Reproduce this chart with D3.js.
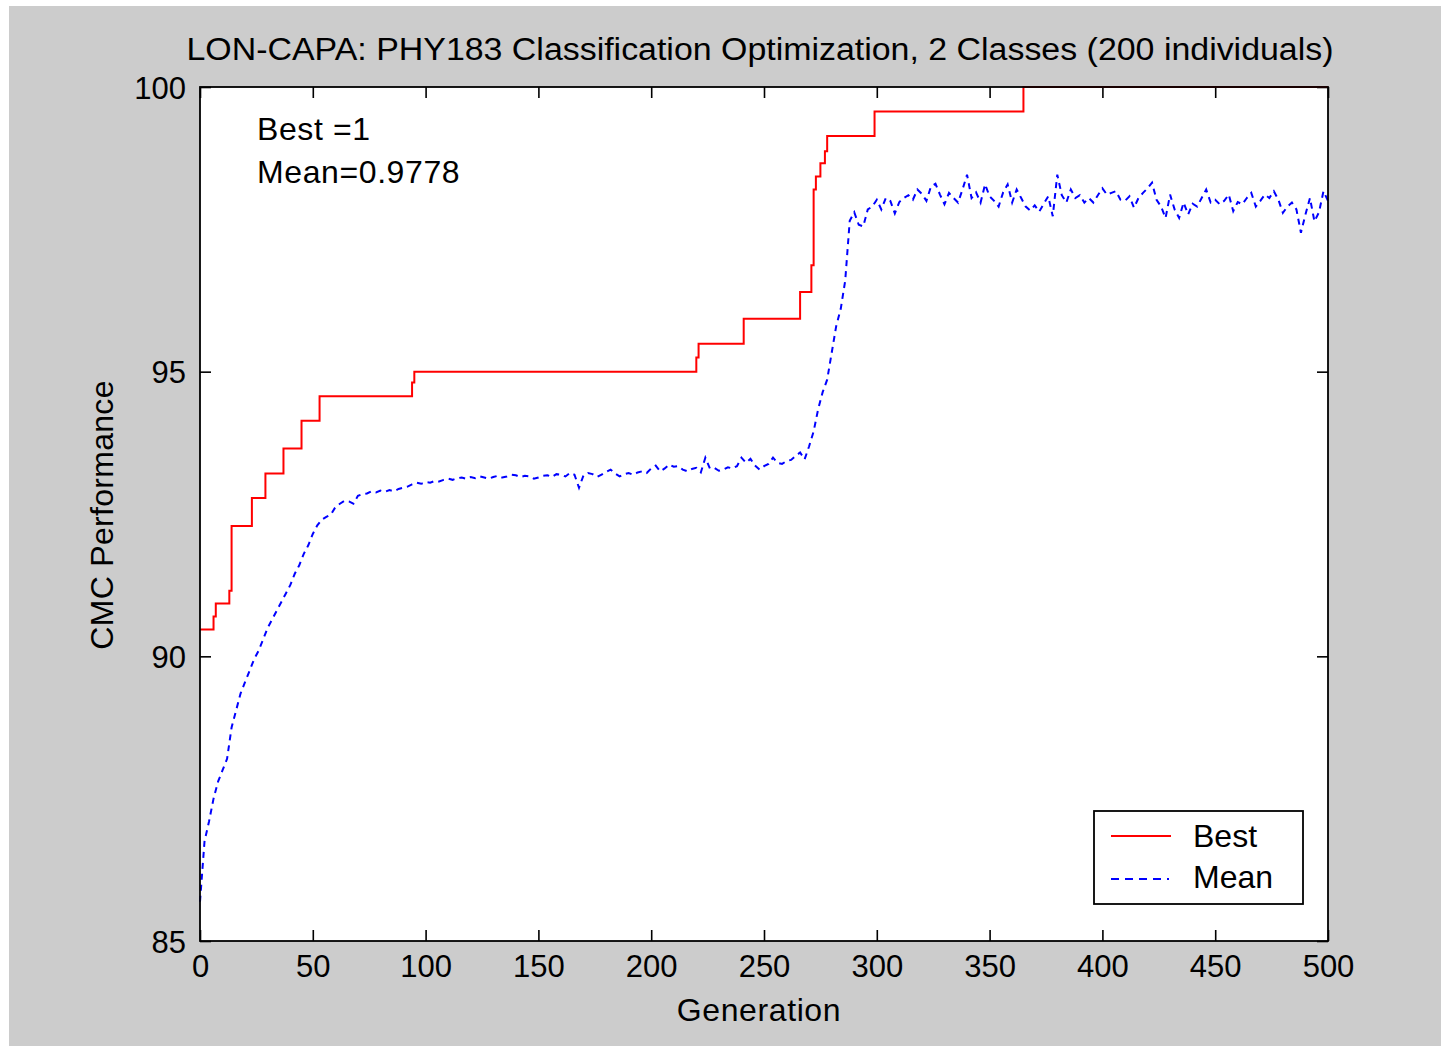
<!DOCTYPE html>
<html>
<head>
<meta charset="utf-8">
<script src="https://cdn.jsdelivr.net/npm/d3@7"></script>
<style>
  body { margin: 0; background: #ffffff; }
  svg text { font-family: "Liberation Sans", Arial, sans-serif; fill: #000; }
</style>
</head>
<body>
<svg id="Diagram"></svg>
<script>
// best individual (step curve): generation where value changes, and value
var bestGen = [0, 6, 7, 13, 14, 23, 29, 37, 45, 53, 94, 95, 220, 221, 241, 266, 271, 272, 273, 275, 277, 278, 299, 365, 500];
var bestVal = [90.47, 90.70, 90.93, 91.15, 92.29, 92.78, 93.21, 93.65, 94.14, 94.57, 94.81, 95.00, 95.25, 95.49, 95.93, 96.40, 96.87, 98.20, 98.43, 98.66, 98.87, 99.14, 99.57, 100.0, 100.0];

// mean of population, one value every 2 generations (0, 2, 4 ... 500)
var meanVal = [
  85.69, 86.75, 87.10, 87.50, 87.80, 88.00, 88.20, 88.75, 89.05, 89.35,
  89.55, 89.75, 89.95, 90.10, 90.30, 90.50, 90.65, 90.80, 90.95, 91.10,
  91.25, 91.45, 91.60, 91.80, 91.95, 92.15, 92.30, 92.40, 92.45, 92.49,
  92.62, 92.68, 92.73, 92.72, 92.68, 92.82, 92.85, 92.86, 92.90, 92.88,
  92.91, 92.89, 92.92, 92.90, 92.94, 92.96, 92.98, 93.02, 93.05, 93.03,
  93.06, 93.05, 93.08, 93.07, 93.10, 93.12, 93.10, 93.13, 93.14, 93.12,
  93.15, 93.13, 93.16, 93.14, 93.12, 93.15, 93.17, 93.14, 93.16, 93.19,
  93.18, 93.15, 93.17, 93.16, 93.12, 93.14, 93.17, 93.18, 93.15, 93.20,
  93.19, 93.16, 93.22, 93.19, 92.96, 93.18, 93.22, 93.20, 93.15, 93.19,
  93.24, 93.28, 93.21, 93.16, 93.20, 93.22, 93.19, 93.23, 93.25, 93.22,
  93.30, 93.35, 93.25, 93.30, 93.37, 93.33, 93.34, 93.28, 93.25, 93.29,
  93.31, 93.23, 93.49, 93.30, 93.31, 93.26, 93.28, 93.32, 93.30, 93.34,
  93.49, 93.40, 93.47, 93.35, 93.28, 93.34, 93.38, 93.49, 93.40, 93.38,
  93.43, 93.45, 93.52, 93.58, 93.46, 93.69, 93.95, 94.34, 94.64, 94.86,
  95.33, 95.80, 96.10, 96.60, 97.65, 97.80, 97.58, 97.55, 97.85, 97.90,
  98.02, 97.85, 98.05, 98.00, 97.78, 97.98, 98.05, 98.10, 98.02, 98.20,
  98.12, 98.00, 98.25, 98.30, 98.11, 97.94, 98.14, 98.05, 97.97, 98.20,
  98.46, 98.05, 98.15, 97.97, 98.29, 98.08, 98.00, 97.90, 98.15, 98.29,
  97.97, 98.20, 98.05, 97.90, 97.83, 97.92, 97.81, 97.95, 98.08, 97.73,
  98.46, 98.10, 97.97, 98.20, 98.05, 98.10, 97.97, 98.05, 97.97, 98.10,
  98.22, 98.11, 98.14, 98.17, 98.02, 98.00, 98.08, 97.88, 98.05, 98.14,
  98.22, 98.32, 98.02, 97.90, 97.70, 98.11, 97.85, 97.70, 97.97, 97.76,
  97.95, 97.90, 98.05, 98.20, 97.97, 98.02, 97.94, 98.00, 98.11, 97.82,
  97.98, 97.94, 98.05, 98.14, 97.90, 98.00, 98.11, 98.05, 98.17, 98.02,
  97.79, 97.90, 97.97, 97.85, 97.44, 97.76, 98.05, 97.64, 97.80, 98.17,
  98.00
];
var meanGen = d3.range(0, 501, 2);

var xTicks = [0, 50, 100, 150, 200, 250, 300, 350, 400, 450, 500];
var yTicks = [85, 90, 95, 100];

var titleText = "LON-CAPA: PHY183 Classification Optimization, 2 Classes (200 individuals)";
var noteText = ["Best =1", "Mean=0.9778"];
var legendNames = ["Best", "Mean"];

render();

function render() {
    var W = 1450, H = 1050;
    var margin = {"left": 200, "right": 122, "top": 87, "bottom": 109};
    var width = W - margin.left - margin.right,
        height = H - margin.top - margin.bottom;

    var root = d3.select("#Diagram")
        .attr("width", W)
        .attr("height", H);

    // grey figure background
    root.append("rect")
        .attr("x", 9).attr("y", 6)
        .attr("width", 1432).attr("height", 1040)
        .attr("fill", "#cccccc");

    var svg = root.append("g")
        .attr("transform", "translate(" + margin.left + "," + margin.top + ")");

    var x = d3.scaleLinear().domain([0, 500]).range([0, width]);
    var y = d3.scaleLinear().domain([85, 100]).range([height, 0]);

    svg.append("rect")
        .attr("width", width).attr("height", height)
        .attr("fill", "#ffffff");

    // ticks point inward on all four sides, like matlab
    var tl = 11;
    var bottomAxis = svg.append("g")
        .attr("transform", "translate(0," + height + ")")
        .call(d3.axisBottom(x).tickValues(xTicks).tickSize(-tl).tickPadding(14).tickFormat(d3.format("d")));
    var topAxis = svg.append("g")
        .call(d3.axisTop(x).tickValues(xTicks).tickSize(-tl).tickFormat(""));
    var leftAxis = svg.append("g")
        .call(d3.axisLeft(y).tickValues(yTicks).tickSize(-tl).tickPadding(14).tickFormat(d3.format("d")));
    var rightAxis = svg.append("g")
        .attr("transform", "translate(" + width + ",0)")
        .call(d3.axisRight(y).tickValues(yTicks).tickSize(-tl).tickFormat(""));

    [bottomAxis, topAxis, leftAxis, rightAxis].forEach(function(a) {
        a.select(".domain").remove();
        a.selectAll(".tick line").attr("stroke", "#000").attr("stroke-width", 1.6);
        a.selectAll("text").style("font-size", "31px").style("font-family", "'Liberation Sans', Arial, sans-serif").attr("fill", "#000");
    });
    bottomAxis.selectAll("text").attr("dy", "0.71em");
    leftAxis.selectAll("text").attr("dy", "0.36em");

    // curves
    var bestLine = d3.line()
        .x(function(d, i) { return x(bestGen[i]); })
        .y(function(d) { return y(d); })
        .curve(d3.curveStepAfter);

    var meanLine = d3.line()
        .x(function(d, i) { return x(meanGen[i]); })
        .y(function(d) { return y(d); });

    svg.append("path")
        .datum(meanVal)
        .attr("d", meanLine)
        .attr("fill", "none")
        .attr("stroke", "#0000ff")
        .attr("stroke-width", 2)
        .attr("stroke-dasharray", "6,5");

    svg.append("path")
        .datum(bestVal)
        .attr("d", bestLine)
        .attr("fill", "none")
        .attr("stroke", "#ff0000")
        .attr("stroke-width", 2);

    // axes box
    svg.append("rect")
        .attr("width", width).attr("height", height)
        .attr("fill", "none")
        .attr("stroke", "#000")
        .attr("stroke-width", 1.8);

    // notes in the corner
    svg.selectAll(".note")
        .data(noteText)
        .enter()
        .append("text")
        .attr("class", "note")
        .attr("x", 57)
        .attr("y", function(d, i) { return 53 + i * 43; })
        .style("font-size", "32px")
        .style("letter-spacing", "0.6px")
        .text(function(d) { return d; });

    // title and axis labels
    root.append("text")
        .attr("x", 760).attr("y", 60)
        .attr("text-anchor", "middle")
        .attr("textLength", 1147)
        .attr("lengthAdjust", "spacingAndGlyphs")
        .style("font-size", "31px")
        .text(titleText);

    root.append("text")
        .attr("x", 759).attr("y", 1021)
        .attr("text-anchor", "middle")
        .style("font-size", "32px")
        .style("letter-spacing", "0.6px")
        .text("Generation");

    root.append("text")
        .attr("transform", "translate(113,515) rotate(-90)")
        .attr("text-anchor", "middle")
        .style("font-size", "32px")
        .style("letter-spacing", "0.3px")
        .text("CMC Performance");

    // legend
    var leg = root.append("g").attr("transform", "translate(1094,811)");
    leg.append("rect")
        .attr("width", 209).attr("height", 93)
        .attr("fill", "#ffffff")
        .attr("stroke", "#000")
        .attr("stroke-width", 1.8);
    leg.append("line")
        .attr("x1", 17).attr("x2", 77).attr("y1", 25).attr("y2", 25)
        .attr("stroke", "#ff0000").attr("stroke-width", 2);
    leg.append("line")
        .attr("x1", 17).attr("x2", 75).attr("y1", 68).attr("y2", 68)
        .attr("stroke", "#0000ff").attr("stroke-width", 2)
        .attr("stroke-dasharray", "8,6");
    leg.selectAll(".lt")
        .data(legendNames)
        .enter()
        .append("text")
        .attr("class", "lt")
        .attr("x", 99)
        .attr("y", function(d, i) { return 36 + i * 41; })
        .style("font-size", "32px")
        .text(function(d) { return d; });
}
</script>
</body>
</html>
